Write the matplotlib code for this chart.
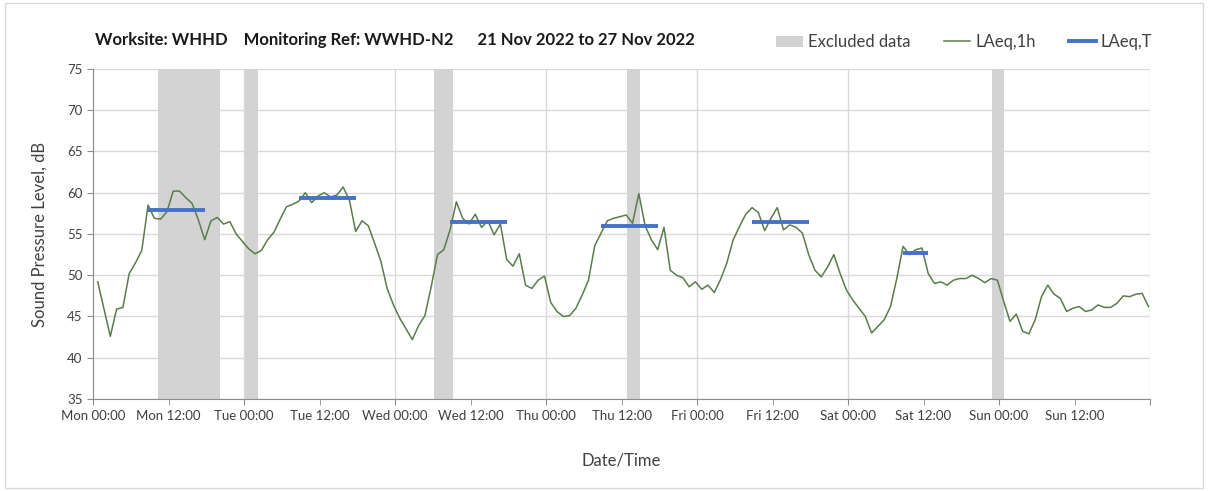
#!/usr/bin/env python3
# -*- coding: utf-8 -*-

import numpy as np
import matplotlib
matplotlib.use("Agg")
import matplotlib.pyplot as plt
from matplotlib.patches import Patch, Rectangle
from matplotlib.lines import Line2D

# ==================== ------ DATA ------- ====================
# hourly LAeq,1h values, Mon 01:00 .. Sun 24:00 (hours from Mon 00:00)
laeq_1h = [
    49.2, 45.9, 42.6, 45.9, 46.1, 50.2, 51.5, 53.0, 58.5, 56.9,
    56.8, 57.7, 60.2, 60.2, 59.4, 58.7, 56.7, 54.3, 56.6, 57.0,
    56.2, 56.5, 55.0, 54.1, 53.2, 52.6, 53.0, 54.3, 55.2, 56.8,
    58.3, 58.6, 59.0,
    60.0, 58.8, 59.6, 60.0, 59.5, 59.7, 60.7, 59.1, 55.3, 56.6,
    56.0, 53.9, 51.7, 48.4, 46.4, 44.8, 43.5, 42.2, 43.9, 45.1,
    48.6, 52.5, 53.1, 55.5, 58.9, 56.9, 56.2, 57.4, 55.8, 56.6,
    54.9, 56.2, 51.9,
    51.1, 52.6, 48.8, 48.4, 49.4, 49.9, 46.7, 45.6, 45.0, 45.1,
    46.0, 47.6, 49.4, 53.6, 55.1, 56.6, 56.9, 57.1, 57.3, 56.3,
    59.9, 56.0, 54.3, 53.1, 55.8, 50.6, 50.0, 49.7, 48.6, 49.2,
    48.3, 48.8, 47.9, 49.5,
    51.5, 54.3, 55.9, 57.4, 58.2, 57.6, 55.4, 56.9, 58.2, 55.5,
    56.1, 55.8, 55.1, 52.5, 50.6, 49.8, 51.0, 52.5, 50.2, 48.2,
    47.0, 46.0, 45.0, 43.0, 43.8, 44.6, 46.2, 49.6, 53.5, 52.5,
    53.1, 53.3, 50.2,
    49.0, 49.2, 48.8, 49.4, 49.6, 49.6, 50.0, 49.6, 49.1, 49.6,
    49.4, 46.8, 44.4, 45.3, 43.2, 42.9, 44.6, 47.4, 48.8, 47.7,
    47.2, 45.6, 46.0, 46.2, 45.6, 45.8, 46.4, 46.1, 46.1, 46.6,
    47.5, 47.4, 47.7, 47.8, 46.2,
]
hours = np.arange(1, len(laeq_1h) + 1) - 0.25

# LAeq,T over the working period of each day
laeq_t_start = [9, 33, 57, 81, 105, 129]
laeq_t_end = [18, 42, 66, 90, 114, 133]
laeq_t_level = [57.9, 59.4, 56.4, 56.0, 56.4, 52.7]

# excluded data windows (hours from Mon 00:00)
excluded_start = [10.5, 24.4, 54.5, 85.2, 143.1]
excluded_end = [20.5, 26.4, 57.4, 87.2, 145.0]

days = ["Mon", "Tue", "Wed", "Thu", "Fri", "Sat", "Sun"]

# ==================== ------ PLOT ------- ====================
plt.rcParams['font.family'] = ['Lato', 'DejaVu Sans']
txt = '#404040'
green = '#5a7c4a'
blue = '#4472C4'
grey = '#d3d3d3'

fig = plt.figure(figsize=(12.08, 4.91), dpi=100)
ax = fig.add_axes([0.077, 0.1874, 0.875, 0.6721])

for s, e in zip(excluded_start, excluded_end):
    ax.axvspan(s - 0.25, e - 0.25, color=grey, lw=0, zorder=1)

ax.plot(hours, laeq_1h, color=green, lw=1.1, zorder=3)
for s, e, v in zip(laeq_t_start, laeq_t_end, laeq_t_level):
    ax.plot([s - 0.25, e - 0.25], [v, v], color=blue, lw=2.8,
            solid_capstyle='butt', zorder=4)

ax.set_xlim(0, 168)
ax.set_ylim(35, 75)
ax.set_yticks(np.arange(35, 76, 5))
ax.set_xticks(np.arange(0, 169, 24))
ax.set_xticklabels([d + " 00:00" for d in days] + [""])
ax.set_xticks(np.arange(12, 168, 24), minor=True)
ax.set_xticklabels([d + " 12:00" for d in days], minor=True)

ax.grid(True, which='major', color='#d9d9d9', lw=1, zorder=0)
ax.set_axisbelow(True)
for side in ['top', 'right']:
    ax.spines[side].set_visible(False)
for side in ['left', 'bottom']:
    ax.spines[side].set_color('#8c8c8c')
ax.tick_params(axis='both', which='both', length=4, color='#8c8c8c',
               labelcolor=txt, labelsize=9.5)
ax.tick_params(axis='x', which='both', pad=4)

ax.set_ylabel("Sound Pressure Level, dB", fontsize=12, color=txt, labelpad=14)
ax.set_xlabel("Date/Time", fontsize=12, color=txt, labelpad=22)

fig.text(0.0786, 0.918,
         "Worksite: WHHD    Monitoring Ref: WWHD-N2      21 Nov 2022 to 27 Nov 2022",
         fontsize=12, fontweight='bold', color='#1a1a1a', va='center')

handles = [Patch(facecolor=grey, edgecolor='none'),
           Line2D([], [], color=green, lw=1.1),
           Line2D([], [], color=blue, lw=2.8)]
fig.legend(handles, ["Excluded data", "LAeq,1h", "LAeq,T"],
           loc='center left', bbox_to_anchor=(0.630, 0.914), ncol=3,
           frameon=False, fontsize=12, labelcolor=txt,
           handlelength=1.6, handletextpad=0.3, columnspacing=2.0)

fig.patches.append(Rectangle((0.004, 0.006), 0.992, 0.988, transform=fig.transFigure,
                             fill=False, edgecolor='#d9d9d9', lw=1))

plt.savefig("out.png", dpi=100)
plt.close()
